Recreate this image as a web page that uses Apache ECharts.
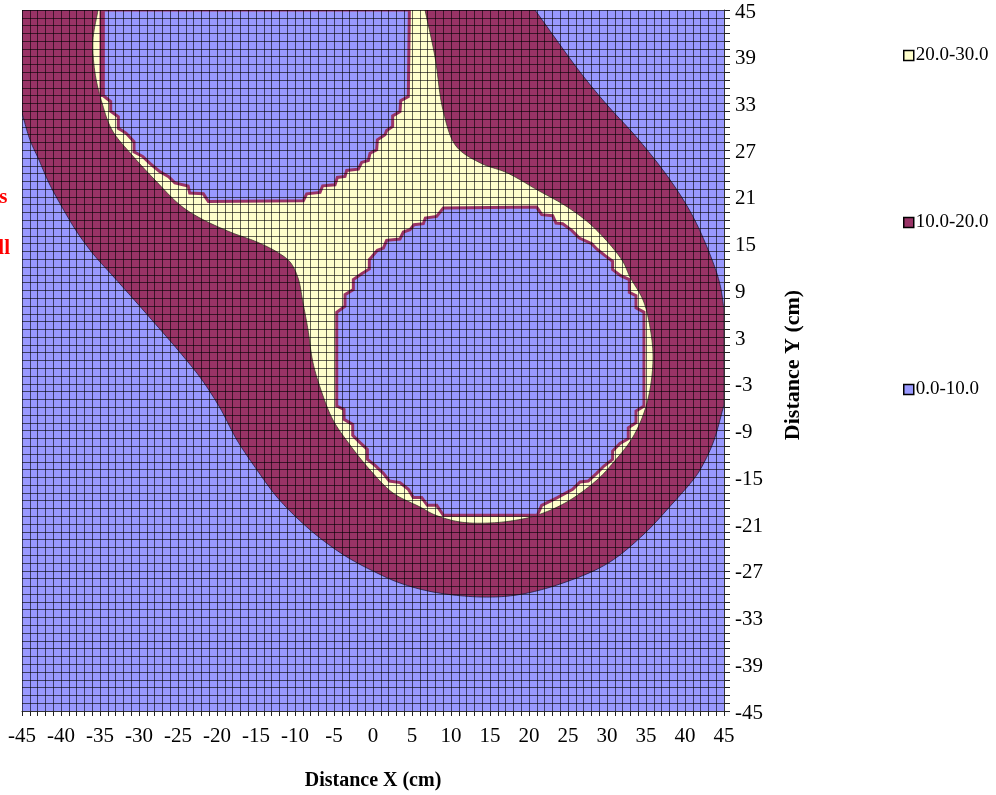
<!DOCTYPE html>
<html>
<head>
<meta charset="utf-8">
<style>html,body{margin:0;padding:0;background:#fff}#c{width:996px;height:795px}</style>
<script src="https://cdn.jsdelivr.net/npm/echarts@6/dist/echarts.min.js"></script>
</head>
<body>
<div id="c"></div>
<script>
const bandNames = ['20.0-30.0', '10.0-20.0', '0.0-10.0'];
const xTickStep = 5;
const yTickStep = 6;

// Contour outlines, in cm
const plotArea = [[-45,45],[45,45],[45,-45],[-45,-45]];
const band10Outline = [[-45,45],[20.77,45],[26.54,37.04],[30,32.82],[33.85,28.59],[38.08,23.2],[41.03,18.46],[43.46,12.95],[44.49,9.74],[45,6.54],[45,-5.7],[43.59,-10.59],[41.92,-14.06],[41.03,-15.34],[38.46,-18.3],[34.62,-22.4],[30,-26.1],[23.97,-28.7],[18.46,-30.1],[13.72,-30.36],[7.69,-29.72],[3.46,-28.57],[0.51,-27.28],[-3.33,-25.23],[-6.79,-22.79],[-9.74,-20.22],[-12.31,-17.53],[-14.87,-14.06],[-17.44,-10.21],[-19.61,-6.1],[-21.92,-2.5],[-24.36,0.58],[-26.67,3.28],[-30.26,7.38],[-33.46,10.98],[-35.77,13.55],[-37.95,16.5],[-39.87,19.7],[-41.54,22.79],[-42.82,25.74],[-43.97,28.31],[-45,31.77]];
const band20Outline = [[-35.26,45],[-35.9,41.15],[-35.64,36.91],[-34.74,33.06],[-33.46,29.59],[-30.9,26.38],[-27.95,23.17],[-24.74,19.96],[-22.18,18.29],[-18.33,16.5],[-14.87,15.21],[-12.31,13.93],[-10.64,12.65],[-9.61,10.59],[-8.97,7.38],[-8.33,3.92],[-7.69,-0.32],[-6.54,-4.17],[-5.13,-7.64],[-2.95,-10.85],[-0.38,-14.06],[2.56,-17.01],[6.03,-18.81],[7.95,-19.83],[11.15,-20.73],[15,-20.86],[18.46,-20.48],[21.15,-19.83],[24.87,-18.16],[28.72,-15.34],[30.77,-13.16],[33.33,-9.82],[35.13,-5.46],[35.9,0.06],[35.51,4.3],[34.62,7.77],[32.95,10.72],[31.92,12.9],[28.21,17.18],[24.87,19.74],[21.03,21.92],[17.18,24.1],[13.72,25.38],[10.64,27.54],[8.97,32.18],[7.95,38.97],[6.67,45]];
const band10Strip = [[-35,45],[-34.4,45],[-34.4,34],[-35,33.84]];
const coldUpper = [[-34.57,45],[-34.57,34],[-33.63,33.25],[-33.63,32],[-32.65,31.3],[-32.65,29.8],[-31.67,29.2],[-30.64,28.1],[-30.64,26.8],[-29.53,26.2],[-28.6,25.3],[-27.4,24.3],[-26.2,23.6],[-25.4,22.8],[-23.7,22.4],[-23.5,21.5],[-21.75,21.4],[-21.1,20.4],[-8.93,20.51],[-8.5,21.4],[-6.79,21.58],[-6.45,22.43],[-4.87,22.56],[-4.57,23.5],[-3.59,23.63],[-3.37,24.4],[-1.88,24.57],[-1.45,25.43],[-0.6,25.68],[-0.38,26.62],[0.47,27.05],[0.56,28.33],[1.54,28.97],[1.75,29.53],[2.52,30.04],[2.52,31.41],[3.46,31.96],[3.55,33.37],[4.53,33.89],[4.66,45]];
const coldLower = [[-0.17,13.29],[0.56,14.14],[1.33,14.44],[1.75,15.43],[3.46,15.6],[3.89,16.5],[4.74,16.79],[5.26,17.43],[6.45,17.56],[6.71,18.29],[8.16,18.5],[9.02,19.57],[20.98,19.7],[21.63,18.72],[23.04,18.59],[23.46,17.65],[24.32,17.56],[25.47,16.71],[26.45,15.72],[28.04,15],[28.68,14.32],[29.75,13.46],[30.72,12.74],[30.72,11.67],[31.75,10.9],[32.86,10.39],[32.86,8.76],[33.72,8.33],[33.72,6.75],[34.74,6.2],[34.74,-5.85],[33.72,-6.49],[33.72,-7.99],[32.73,-8.63],[32.73,-10.04],[31.66,-10.64],[30.72,-11.62],[30.72,-12.69],[29.61,-13.55],[28.67,-14.49],[27.6,-15.47],[26.54,-15.6],[25.6,-16.54],[23.63,-17.6],[21.62,-18.59],[21.07,-19.87],[9.02,-19.87],[8.17,-18.59],[6.97,-18.59],[6.24,-17.6],[5.17,-17.6],[4.53,-16.54],[3.46,-15.68],[2.1,-15.47],[1.33,-14.49],[0.26,-13.46],[-0.72,-12.69],[-0.72,-11.41],[-1.66,-10.55],[-2.6,-9.61],[-2.6,-8.2],[-3.71,-7.56],[-3.71,-6.28],[-4.65,-5.85],[-4.65,6.2],[-3.59,6.97],[-3.59,8.46],[-2.52,9.1],[-2.52,10.39],[-1.45,11.15],[-0.47,11.75],[-0.47,12.95]];

const BLUE = '#9999FF', MAROON = '#993366', YELLOW = '#FFFFCC';
const SERIF = '"Liberation Serif","Times New Roman",serif';

// Draws a closed centripetal spline through a pixel outline, keeping runs
// along the plot border straight, so contours render as smooth curves.
function curve(px, cm) {
  const n = px.length, out = [];
  const onBorder = function (a, b) {
    return (a[0] === b[0] && Math.abs(a[0]) === 45) || (a[1] === b[1] && Math.abs(a[1]) === 45);
  };
  const lerp = function (a, b, ta, tb, t) {
    const k = tb === ta ? 0 : (t - ta) / (tb - ta);
    return [a[0] + (b[0] - a[0]) * k, a[1] + (b[1] - a[1]) * k];
  };
  for (let i = 0; i < n; i++) {
    const j = (i + 1) % n, h = (i - 1 + n) % n, l = (i + 2) % n;
    if (onBorder(cm[i], cm[j])) { out.push(px[i]); continue; }
    const p1 = px[i], p2 = px[j];
    let p0 = onBorder(cm[h], cm[i]) ? [2 * p1[0] - p2[0], 2 * p1[1] - p2[1]] : px[h];
    let p3 = onBorder(cm[j], cm[l]) ? [2 * p2[0] - p1[0], 2 * p2[1] - p1[1]] : px[l];
    const d = function (a, b) { return Math.sqrt(Math.hypot(a[0] - b[0], a[1] - b[1])); };
    const t0 = 0, t1 = t0 + d(p0, p1), t2 = t1 + d(p1, p2), t3 = t2 + d(p2, p3);
    for (let s = 0; s < 12; s++) {
      const t = t1 + (t2 - t1) * s / 12;
      const a1 = lerp(p0, p1, t0, t1, t), a2 = lerp(p1, p2, t1, t2, t), a3 = lerp(p2, p3, t2, t3, t);
      const b1 = lerp(a1, a2, t0, t2, t), b2 = lerp(a2, a3, t1, t3, t);
      out.push(lerp(b1, b2, t1, t2, t));
    }
  }
  return out;
}

function band(name, vertices, color, stroke, strokeWidth, smooth) {
  return {
    type: 'custom', name: name, coordinateSystem: 'cartesian2d', clip: true, silent: true,
    data: vertices, encode: {x: 0, y: 1}, itemStyle: {color: color},
    renderItem: function (params, api) {
      if (params.dataIndex !== 0) return null;
      const px = vertices.map(function (p) { return api.coord(p); });
      return {
        type: 'polygon',
        shape: {points: smooth ? curve(px, vertices) : px},
        style: {fill: color, stroke: stroke, lineWidth: strokeWidth}
      };
    }
  };
}

const chart = echarts.init(document.getElementById('c'), null, {renderer: 'canvas'});
chart.setOption({
  animation: false,
  backgroundColor: '#fff',
  textStyle: {fontFamily: SERIF},
  grid: {left: 22, top: 10, width: 702, height: 701, containLabel: false, outerBoundsMode: 'none'},
  legend: {
    data: bandNames, orient: 'vertical', left: 898, top: 41, itemWidth: 10, itemHeight: 10,
    itemGap: 148, selectedMode: false, icon: 'rect', itemStyle: {borderColor: '#000', borderWidth: 1.5},
    textStyle: {fontFamily: SERIF, fontSize: 19, color: '#000', padding: [0, 0, 0, -3]}
  },
  xAxis: {
    type: 'value', position: 'bottom', min: -45, max: 45, interval: 1, z: 10,
    name: 'Distance X (cm)', nameLocation: 'middle', nameGap: 60,
    nameTextStyle: {fontFamily: SERIF, fontSize: 20, fontWeight: 'bold', color: '#000'},
    axisLine: {onZero: false, lineStyle: {color: '#333', width: 1}},
    axisTick: {length: 5, lineStyle: {color: '#222'}},
    splitLine: {show: true, lineStyle: {color: 'rgba(0,0,0,0.6)', width: 1}},
    axisLabel: {
      margin: 15, fontFamily: SERIF, fontSize: 21, color: '#000', hideOverlap: false,
      interval: 0, showMinLabel: true, showMaxLabel: true,
      formatter: function (v) { return (v + 45) % xTickStep === 0 ? String(v) : ''; }
    }
  },
  yAxis: {
    type: 'value', position: 'right', min: -45, max: 45, interval: 1, z: 10,
    name: 'Distance Y (cm)', nameLocation: 'middle', nameGap: 58, nameRotate: 90,
    nameTextStyle: {fontFamily: SERIF, fontSize: 22, fontWeight: 'bold', color: '#000', padding: [0, 9, 0, 0]},
    axisLine: {onZero: false, lineStyle: {color: '#333', width: 1}},
    axisTick: {length: 6, lineStyle: {color: '#222'}},
    splitLine: {show: true, lineStyle: {color: 'rgba(0,0,0,0.6)', width: 1}},
    axisLabel: {
      margin: 11, fontFamily: SERIF, fontSize: 21, color: '#000', hideOverlap: false,
      interval: 0, showMinLabel: true, showMaxLabel: true, verticalAlign: 'top', lineHeight: 4,
      formatter: function (v) { return (v + 45) % yTickStep === 0 ? String(v) : ''; }
    }
  },
  series: [
    band('0.0-10.0', plotArea, BLUE, 'none', 0, false),
    band('10.0-20.0', band10Outline, MAROON, '#1e1e3c', 0.8, true),
    band('20.0-30.0', band20Outline, YELLOW, '#3a3a2a', 0.8, true),
    band('10.0-20.0', band10Strip, MAROON, MAROON, 1, false),
    band('0.0-10.0', coldUpper, BLUE, MAROON, 3, false),
    band('0.0-10.0', coldLower, BLUE, MAROON, 3, false)
  ],
  graphic: [
    {type: 'text', x: 7.5, y: 198, silent: true, style: {text: 's', fill: '#FF0000', font: 'bold 21px ' + SERIF, textAlign: 'right', textVerticalAlign: 'middle'}},
    {type: 'text', x: 10, y: 249, silent: true, style: {text: 'll', fill: '#FF0000', font: 'bold 21px ' + SERIF, textAlign: 'right', textVerticalAlign: 'middle'}}
  ]
});
</script>
</body>
</html>
